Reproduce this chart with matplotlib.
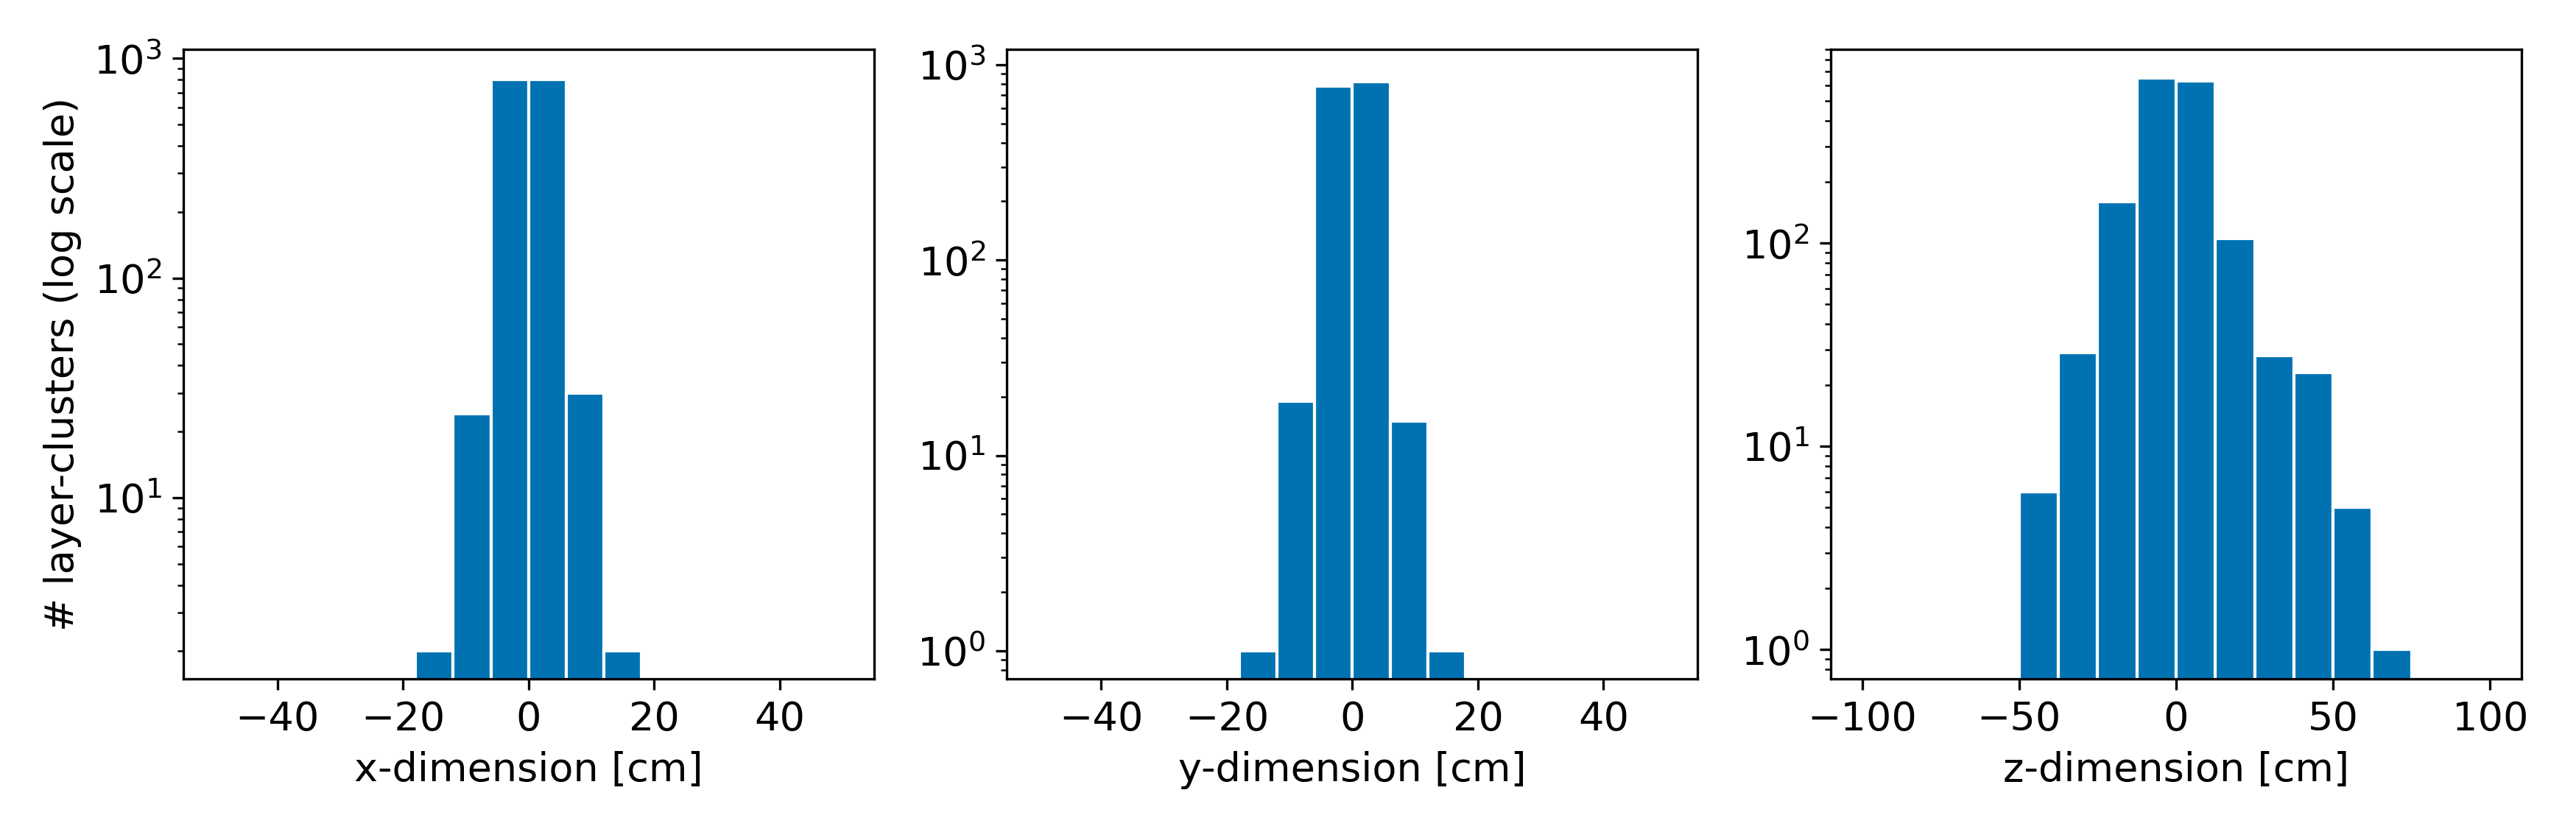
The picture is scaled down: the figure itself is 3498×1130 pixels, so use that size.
import numpy as np
import matplotlib
matplotlib.use("Agg")
import matplotlib.pyplot as plt

# bin edges and counts
x_edges = [-18, -12, -6, 0, 6, 12, 18]
x_counts = [2, 24, 800, 800, 30, 2]
y_edges = [-18, -12, -6, 0, 6, 12, 18]
y_counts = [1, 19, 780, 820, 15, 1]
z_edges = [-50, -37.5, -25, -12.5, 0, 12.5, 25, 37.5, 50, 62.5, 75]
z_counts = [6, 29, 160, 650, 630, 105, 28, 23, 5, 1]

plt.rcParams['font.size'] = 13
fig, axes = plt.subplots(1, 3, figsize=(11.66, 3.767), dpi=300)

panels = [
    (x_edges, x_counts, "x-dimension [cm]", (-55, 55), [-40, -20, 0, 20, 40]),
    (y_edges, y_counts, "y-dimension [cm]", (-55, 55), [-40, -20, 0, 20, 40]),
    (z_edges, z_counts, "z-dimension [cm]", (-110, 110), [-100, -50, 0, 50, 100]),
]
for ax, (edges, counts, label, lim, ticks) in zip(axes, panels):
    edges = np.array(edges)
    ax.bar(edges[:-1], counts, width=np.diff(edges), align='edge',
           color='#0072B2', edgecolor='white', linewidth=1)
    ax.set_yscale('log')
    ax.set_xlim(*lim)
    ax.set_xticks(ticks)
    ax.set_xlabel(label)

axes[0].set_ylim(1.5, 1100)
axes[1].set_ylim(0.72, 1200)
axes[2].set_ylim(0.72, 900)
axes[0].set_ylabel("# layer-clusters (log scale)")

plt.tight_layout()
plt.savefig("out.png")
